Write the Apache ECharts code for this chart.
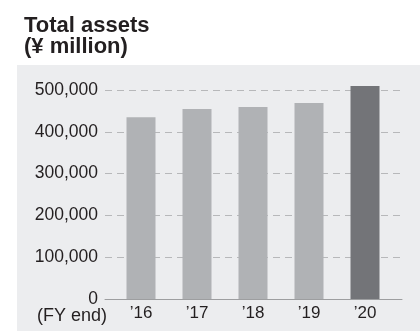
<!DOCTYPE html>
<html>
<head>
<meta charset="utf-8">
<script src="https://cdn.jsdelivr.net/npm/echarts@6/dist/echarts.min.js"></script>
<style>
html,body{margin:0;padding:0;background:#fff;}
#c{width:420px;height:331px;}
</style>
</head>
<body>
<div id="c"></div>
<script>
var categories = ["’16", "’17", "’18", "’19", "’20"];
var totalAssets = [435000, 454500, 459300, 469000, 509600];
var yTicks = [0, 100000, 200000, 300000, 400000, 500000];
var titleLines = ["Total assets", "(¥ million)"];
var axisNote = "(FY end)";

var LIGHT = "#b0b2b5", DARK = "#737478", TEXT = "#231f20";
var chart = echarts.init(document.getElementById('c'), null, {renderer: 'canvas'});
var yMin = yTicks[0], yMax = yTicks[yTicks.length - 1], yStep = yTicks[1] - yTicks[0];

chart.setOption({
  animation: false,
  backgroundColor: '#ffffff',
  title: {
    text: titleLines.join('\n'),
    left: 19, top: 10,
    textStyle: {fontFamily: 'Liberation Sans', fontWeight: 'bold', fontSize: 22, lineHeight: 21, color: TEXT}
  },
  graphic: [
    {type: 'rect', z: -10, silent: true, shape: {x: 17, y: 65, width: 403, height: 266}, style: {fill: '#ecedef'}},
    {type: 'text', z: 10, silent: true, style: {text: axisNote, x: 72, y: 316, align: 'center', verticalAlign: 'middle',
      font: '18px "Liberation Sans"', fill: TEXT}}
  ],
  grid: [
    {left: 105, right: 18, top: 90, bottom: 32},
    {left: 113, right: 27, top: 90, bottom: 32}
  ],
  xAxis: [
    {gridIndex: 0, type: 'value', min: 0, max: 1, axisLabel: {show: false}, axisTick: {show: false}, splitLine: {show: false},
      axisLine: {show: true, onZero: false, lineStyle: {color: '#9d9ea0', width: 1}}},
    {gridIndex: 1, type: 'category', data: categories, boundaryGap: true,
      axisLine: {show: false}, axisTick: {show: false},
      axisLabel: {margin: 6, fontFamily: 'Liberation Sans', fontSize: 17, color: TEXT}}
  ],
  yAxis: [
    {gridIndex: 0, type: 'value', min: yMin, max: yMax, interval: yStep,
      axisLine: {show: false}, axisTick: {show: false},
      axisLabel: {margin: 7, fontFamily: 'Liberation Sans', fontSize: 17.5, color: TEXT,
        formatter: function (v) { return v.toLocaleString('en-US'); }},
      splitLine: {show: true, lineStyle: {color: '#b7b8ba', type: [7, 5], width: 1}}},
    {gridIndex: 1, type: 'value', min: yMin, max: yMax, interval: yStep, show: false, splitLine: {show: false}}
  ],
  series: [{
    type: 'bar', xAxisIndex: 1, yAxisIndex: 1, barWidth: 29, clip: false,
    data: totalAssets.map(function (v, i) {
      return {value: v, itemStyle: {color: i === totalAssets.length - 1 ? DARK : LIGHT}};
    })
  }]
});
</script>
</body>
</html>
